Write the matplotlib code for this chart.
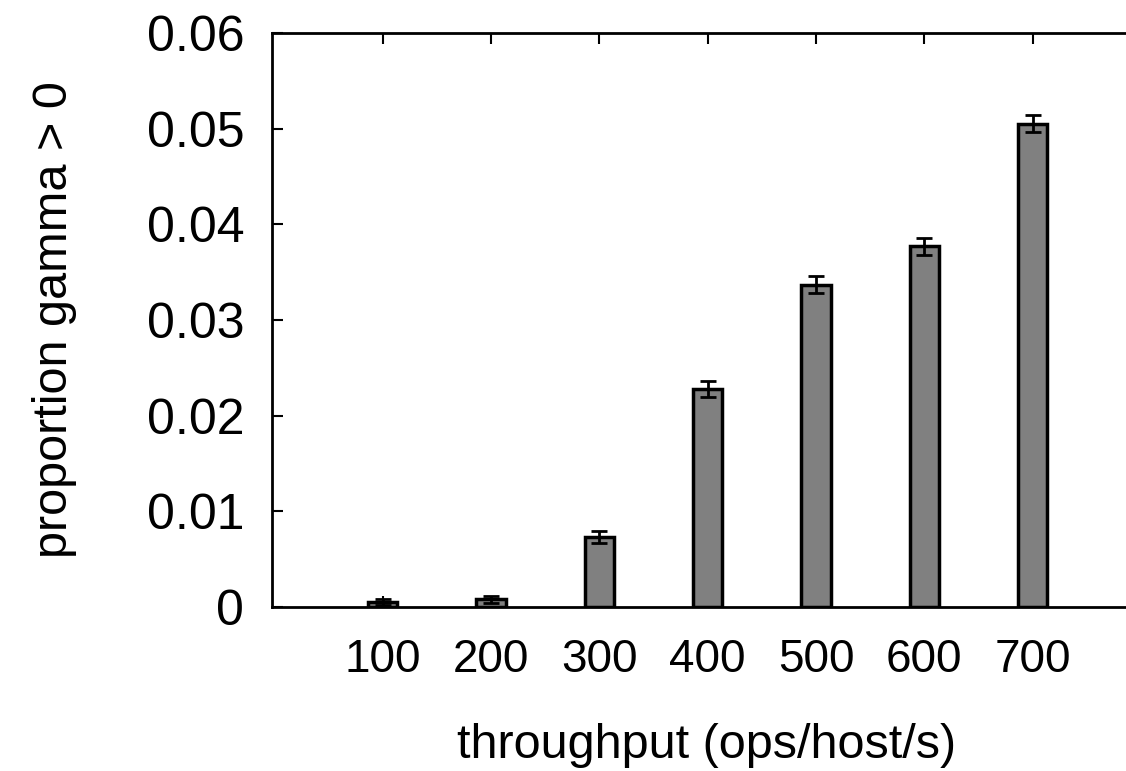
import numpy as np
import matplotlib
matplotlib.use("Agg")
import matplotlib.pyplot as plt

plt.rcParams['font.family'] = ['Liberation Sans', 'DejaVu Sans']

# throughput levels and measured proportion with error
throughput = [100, 200, 300, 400, 500, 600, 700]
proportion = [0.0005, 0.0008, 0.0073, 0.0228, 0.0337, 0.0377, 0.0505]
error = [0.0003, 0.0004, 0.0006, 0.0008, 0.0009, 0.0009, 0.0009]
yticks = [0, 0.01, 0.02, 0.03, 0.04, 0.05, 0.06]

W, H = 1126, 771
fig = plt.figure(figsize=(W / 100, H / 100), dpi=100)
# right edge of the axes sits past the picture, as in the original
ax = fig.add_axes([272 / W, (H - 607) / H, (1141 - 272) / W, (607 - 33) / H])

ax.bar(throughput, proportion, width=27, color='#808080', edgecolor='black',
       linewidth=2.5, zorder=2)
ax.errorbar(throughput, proportion, yerr=error, fmt='none', ecolor='black',
            elinewidth=2, capsize=6, capthick=2, zorder=3)

ax.set_xlim(-2, 800)
ax.set_ylim(0, 0.06)
ax.set_xticks(throughput)
ax.set_xticklabels([str(t) for t in throughput])
ax.set_yticks(yticks)
ax.set_yticklabels(['0' if v == 0 else f'{v:.2f}' for v in yticks])

ax.tick_params(axis='both', direction='in', length=8, width=1.5, labelsize=33)
ax.tick_params(axis='x', top=True, pad=22)
ax.tick_params(axis='y', pad=20, labelsize=36)
for s in ax.spines.values():
    s.set_linewidth(2)

ax.set_xlabel('throughput (ops/host/s)', fontsize=35, labelpad=30)
ax.set_ylabel('proportion gamma > 0', fontsize=35, labelpad=50)

fig.savefig('out.png', dpi=100)
